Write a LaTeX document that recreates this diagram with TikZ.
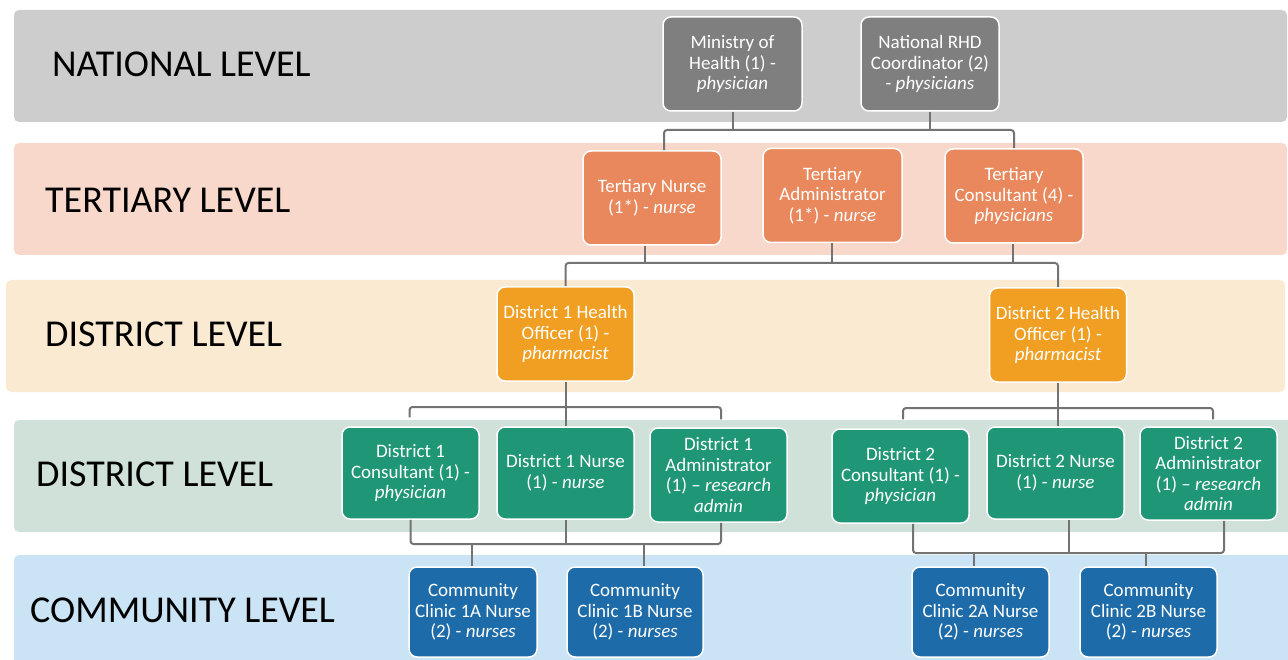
\documentclass[tikz,border=0pt]{standalone}
\usepackage{fontspec}
\setmainfont{Carlito}
\definecolor{bandgray}{HTML}{CDCDCD}
\definecolor{bandpink}{HTML}{F8D8CB}
\definecolor{bandorange}{HTML}{FBEAD2}
\definecolor{bandgreen}{HTML}{CFE1D8}
\definecolor{bandblue}{HTML}{CAE3F5}
\definecolor{nodegray}{HTML}{7F7F7F}
\definecolor{nodesalmon}{HTML}{E9885C}
\definecolor{nodeorange}{HTML}{F09F22}
\definecolor{nodegreen}{HTML}{1F9776}
\definecolor{nodeblue}{HTML}{1D6BA8}
\definecolor{linegray}{HTML}{737373}
\tikzset{
  box/.style={rounded corners=8pt, draw=white, line width=1.5pt, text=white,
    align=center, minimum width=137pt, minimum height=94pt, inner sep=0pt,
    font=\fontsize{19}{20.5}\selectfont},
  cbox/.style={box, minimum height=90pt},
  levellabel/.style={anchor=west, inner sep=0pt, text=black,
    font=\fontsize{38}{40}\selectfont},
  band/.style={rounded corners=5pt},
  conn/.style={draw=linegray, line width=2pt, rounded corners=3pt}
}
\begin{document}
\begin{tikzpicture}[x=1pt,y=1pt]
\useasboundingbox (0,0) rectangle (1288,-660);
\clip (0,0) rectangle (1288,-660);
% bands
\fill[band, bandgray] (14,-10) rectangle (1287,-122);
\fill[band, bandpink] (14,-143) rectangle (1287,-255);
\fill[band, bandorange] (6,-280) rectangle (1285,-392);
\fill[band, bandgreen] (14,-420) rectangle (1296,-532);
\fill[band, bandblue] (14,-555) rectangle (1296,-672);
% level labels
\node[levellabel] (lnat) at (52,-64) {NATIONAL LEVEL};
\node[levellabel] (lter) at (45,-200.5) {TERTIARY LEVEL};
\node[levellabel] (ldis1) at (45,-334) {DISTRICT LEVEL};
\node[levellabel] (ldis2) at (36,-474) {DISTRICT LEVEL};
\node[levellabel] (lcom) at (30,-610) {COMMUNITY LEVEL};
% national
\node[box, fill=nodegray, minimum width=139pt] (min) at (732.5,-64) {Ministry of\\Health (1) -\\\textit{physician}};
\node[box, fill=nodegray, minimum width=138pt] (rhd) at (930,-64) {National RHD\\Coordinator (2)\\- \textit{physicians}};
% tertiary
\node[box, fill=nodesalmon, minimum width=138pt] (tn) at (652,-198) {Tertiary Nurse\\(1*) - \textit{nurse}};
\node[box, fill=nodesalmon, minimum width=139pt] (ta) at (832.5,-195.5) {Tertiary\\Administrator\\(1*) - \textit{nurse}};
\node[box, fill=nodesalmon, minimum width=138pt] (tc) at (1014,-196) {Tertiary\\Consultant (4) -\\\textit{physicians}};
% district health officers
\node[box, fill=nodeorange] (d1h) at (565.5,-334) {District 1 Health\\Officer (1) -\\\textit{pharmacist}};
\node[box, fill=nodeorange] (d2h) at (1058,-335) {District 2 Health\\Officer (1) -\\\textit{pharmacist}};
% district staff
\node[box, fill=nodegreen, minimum height=92pt] (d1c) at (410.5,-473) {District 1\\Consultant (1) -\\\textit{physician}};
\node[box, fill=nodegreen, minimum height=92pt] (d1n) at (565.5,-473) {District 1 Nurse\\(1) - \textit{nurse}};
\node[box, fill=nodegreen] (d1a) at (718.5,-475) {District 1\\Administrator\\(1) -- \textit{research}\\\textit{admin}};
\node[box, fill=nodegreen] (d2c) at (900.5,-476) {District 2\\Consultant (1) -\\\textit{physician}};
\node[box, fill=nodegreen, minimum height=92pt] (d2n) at (1055.5,-473) {District 2 Nurse\\(1) - \textit{nurse}};
\node[box, fill=nodegreen, minimum height=93pt] (d2a) at (1208.5,-473.5) {District 2\\Administrator\\(1) -- \textit{research}\\\textit{admin}};
% community
\node[cbox, fill=nodeblue, minimum width=128pt] (c1a) at (473,-612) {Community\\Clinic 1A Nurse\\(2) - \textit{nurses}};
\node[cbox, fill=nodeblue, minimum width=136pt] (c1b) at (635,-612) {Community\\Clinic 1B Nurse\\(2) - \textit{nurses}};
\node[cbox, fill=nodeblue] (c2a) at (980.5,-612) {Community\\Clinic 2A Nurse\\(2) - \textit{nurses}};
\node[cbox, fill=nodeblue] (c2b) at (1148.5,-612) {Community\\Clinic 2B Nurse\\(2) - \textit{nurses}};
% bus levels
\coordinate (bus1) at (0,-130);
\coordinate (bus2) at (0,-263);
\coordinate (bus3) at (0,-407);
\coordinate (bus4) at (0,-408);
\coordinate (bus5) at (0,-544);
\coordinate (bus6) at (0,-553);
% national -> tertiary
\draw[conn] ([xshift=12pt]tn.north) |- (tc.north |- bus1) -- (tc.north);
\draw[conn] (min.south) -- (min.south |- bus1);
\draw[conn] (rhd.south) -- (rhd.south |- bus1);
% tertiary -> district health officers
\draw[conn] (d1h.north) |- (d2h.north |- bus2) -- (d2h.north);
\draw[conn] ([xshift=-7pt]tn.south) -- ([xshift=-7pt]tn.south |- bus2);
\draw[conn] ([xshift=-1pt]ta.south) -- ([xshift=-1pt]ta.south |- bus2);
\draw[conn] ([xshift=-1pt]tc.south) -- ([xshift=-1pt]tc.south |- bus2);
% district 1 officer -> staff
\draw[conn] (d1h.south) -- (d1n.north);
\draw[conn] ([shift={(-1pt,9pt)}]d1c.north) |- ([xshift=2.5pt]d1a.north |- bus3) -- ([shift={(2.5pt,8pt)}]d1a.north);
% district 2 officer -> staff
\draw[conn] (d2h.south) -- (d2h.south |- d2n.north);
\draw[conn] ([shift={(2.5pt,9pt)}]d2c.north) |- ([xshift=4.5pt]d2a.north |- bus4) -- ([shift={(4.5pt,7pt)}]d2a.north);
% district 1 staff -> community
\draw[conn] (d1c.south) |- ([xshift=2.5pt]d1a.south |- bus5) -- ([xshift=2.5pt]d1a.south);
\draw[conn] (d1n.south) -- (d1n.south |- bus5);
\draw[conn] ([xshift=-1pt]c1a.north) -- ([xshift=-1pt]c1a.north |- bus5);
\draw[conn] ([xshift=9pt]c1b.north) -- ([xshift=9pt]c1b.north |- bus5);
% district 2 staff -> community
\draw[conn] ([xshift=12.5pt]d2c.south) |- ([xshift=15.5pt]d2a.south |- bus6) -- ([xshift=15.5pt]d2a.south);
\draw[conn] ([xshift=13.5pt]d2n.south) -- ([xshift=13.5pt]d2n.south |- bus6);
\draw[conn] ([xshift=-6.5pt]c2a.north) -- ([xshift=-6.5pt]c2a.north |- bus6);
\draw[conn] ([xshift=-2.5pt]c2b.north) -- ([xshift=-2.5pt]c2b.north |- bus6);
\end{tikzpicture}
\end{document}
